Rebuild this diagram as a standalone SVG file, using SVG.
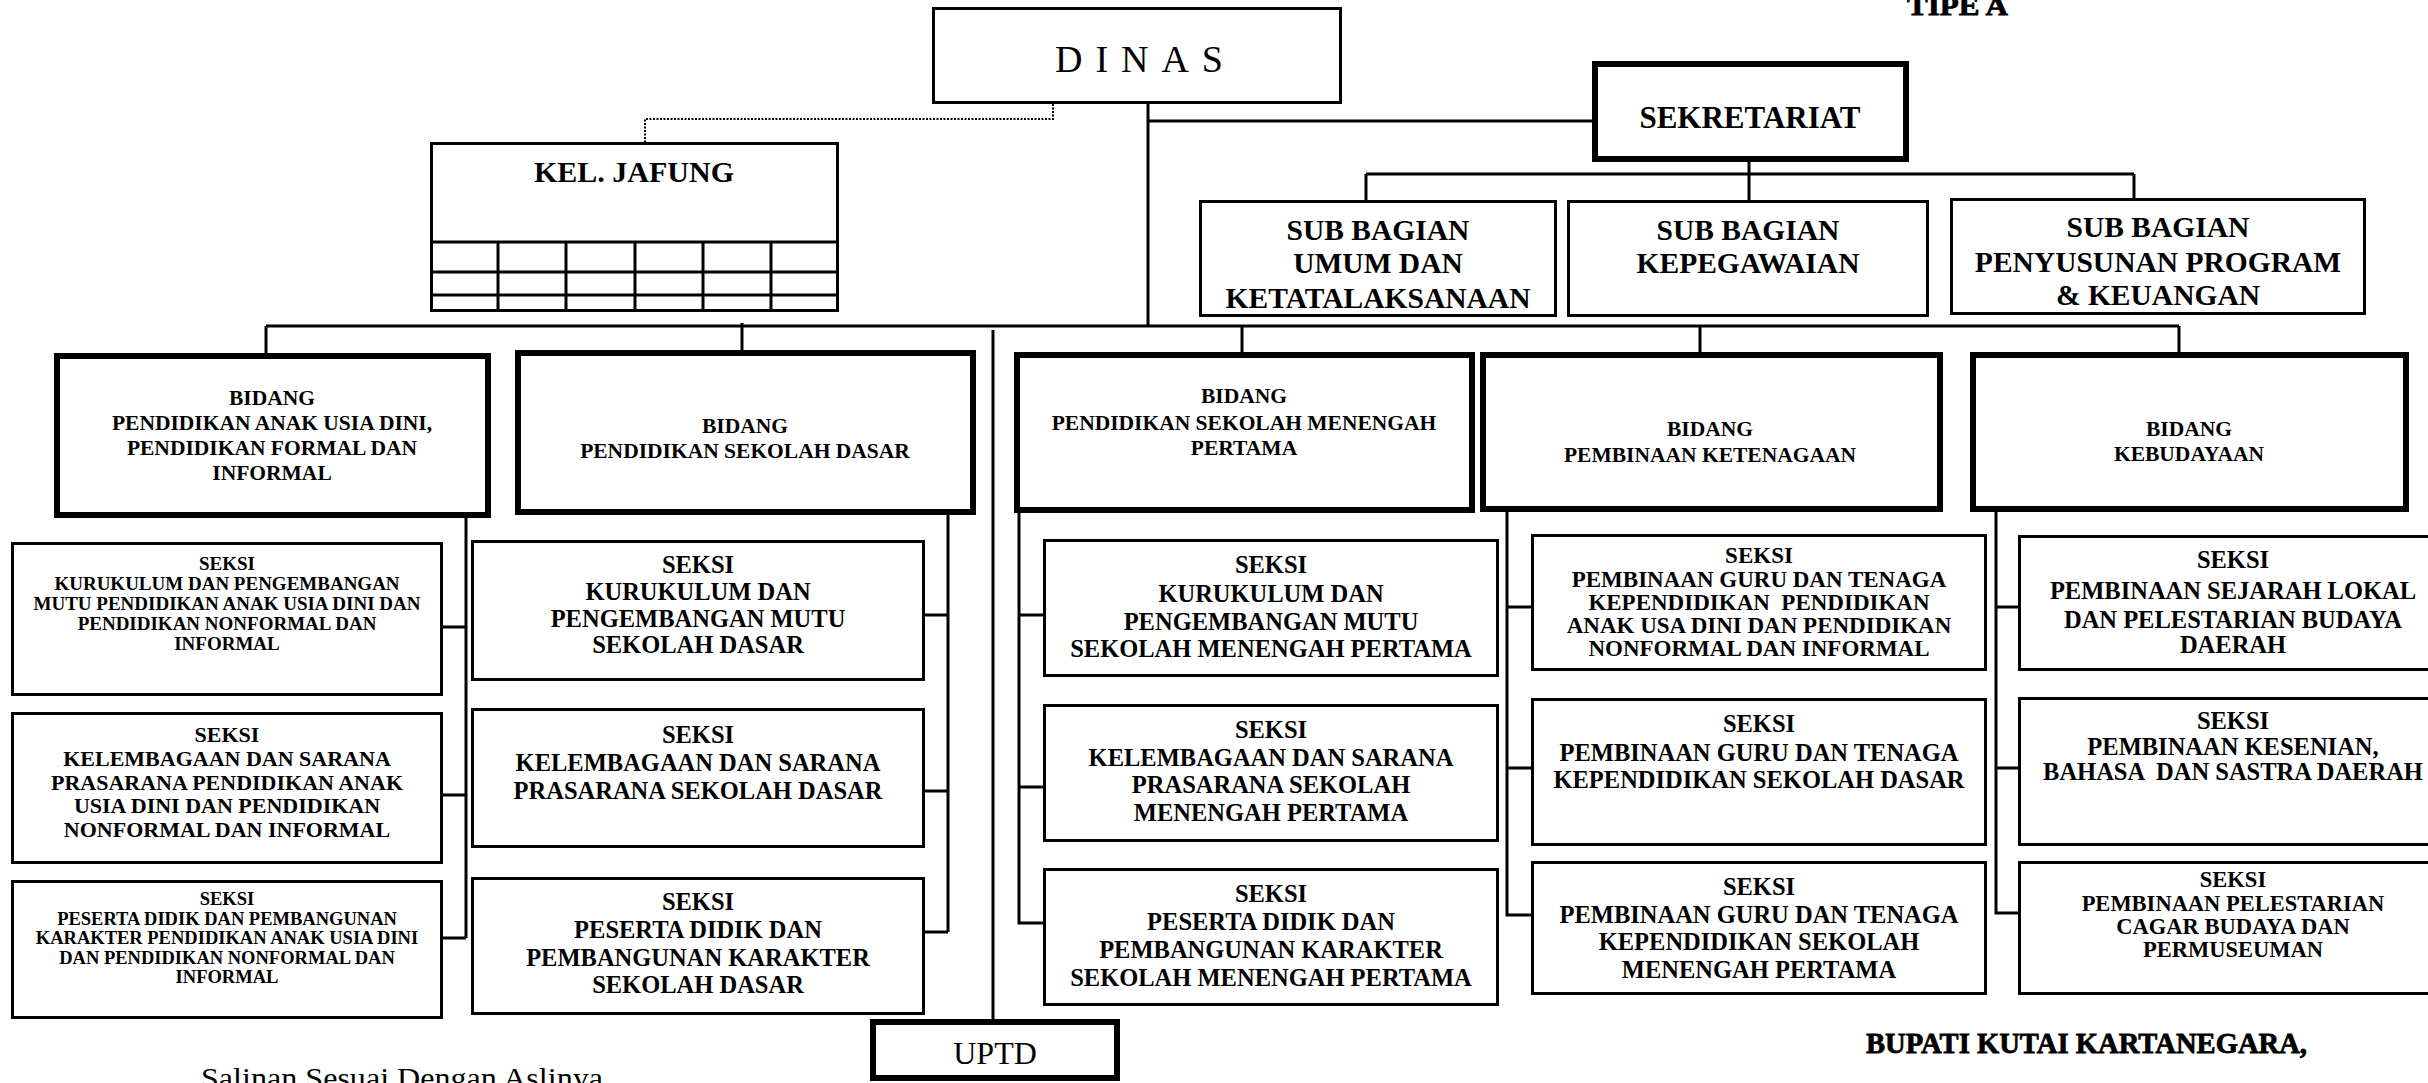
<svg xmlns="http://www.w3.org/2000/svg" width="2428" height="1083" viewBox="0 0 2428 1083">
<style>
.bx{fill:#fff;stroke:#000;stroke-width:3}
.tk{fill:#fff;stroke:#000;stroke-width:6}
.ln{fill:none;stroke:#000;stroke-width:3}
.dt{fill:none;stroke:#000;stroke-width:2;stroke-dasharray:2 1.5}
text{font-family:"Liberation Serif","Times New Roman",serif;font-weight:bold;fill:#000;text-anchor:middle}
.f19{font-size:19px}.f185{font-size:18.5px}.f21{font-size:21.5px}.f22{font-size:22px}.f225{font-size:22.5px}.f23{font-size:23px}.f24{font-size:24.5px}.f29{font-size:29.5px}
</style>
<rect width="2428" height="1083" fill="#fff"/>
<g id="connectors">
<path class="dt" d="M1053 104 V119 H645 V142"/>
<path class="ln" d="M1148 104 V326"/>
<path class="ln" d="M1148 121 H1592"/>
<path class="ln" d="M1749 162 V174 M1366 174 H2134 M1366 174 V200 M1749 174 V200 M2134 174 V198"/>
<path class="ln" d="M266 326 H2179 M266 326 V353 M742 323 V350 M1242 326 V352 M1700 326 V352 M2179 326 V352"/>
<path class="ln" d="M993 330 V1019"/>
<path class="ln" d="M466 518 V938 M443 627 H466 M443 795 H466 M443 938 H466"/>
<path class="ln" d="M948 515 V932 M925 615 H948 M925 791 H948 M925 932 H948"/>
<path class="ln" d="M1019 513 V923 H1043 M1019 615 H1043 M1019 787 H1043"/>
<path class="ln" d="M1507 512 V915 H1531 M1507 607 H1531 M1507 768 H1531"/>
<path class="ln" d="M1996 512 V913 H2018 M1996 607 H2018 M1996 768 H2018"/>
</g>
<g id="dinas">
<rect class="bx" x="933.5" y="8.5" width="407" height="94"/>
<text x="1055" y="72" style="font-size:38px;font-weight:normal;text-anchor:start" textLength="168" lengthAdjust="spacing">DINAS</text>
</g>
<g id="sekretariat">
<rect class="tk" x="1595" y="64" width="311" height="95"/>
<text x="1750" y="128" style="font-size:31px">SEKRETARIAT</text>
</g>
<g id="kel-jafung">
<rect class="bx" x="431.5" y="143.5" width="406" height="167"/>
<path class="ln" d="M430 242 H839 M430 272 H839 M430 295 H839 M498 242 V312 M566 242 V312 M635 242 V312 M703 242 V312 M771 242 V312"/>
<text x="634" y="182" style="font-size:30px">KEL. JAFUNG</text>
</g>
<g id="sub-umum">
<rect class="bx" x="1200.5" y="201.5" width="355" height="114"/>
<text class="f29" x="1378" y="240">SUB BAGIAN</text>
<text class="f29" x="1378" y="273">UMUM DAN</text>
<text class="f29" x="1378" y="308">KETATALAKSANAAN</text>
</g>
<g id="sub-kepegawaian">
<rect class="bx" x="1568.5" y="201.5" width="359" height="114"/>
<text class="f29" x="1748" y="240">SUB BAGIAN</text>
<text class="f29" x="1748" y="273">KEPEGAWAIAN</text>
</g>
<g id="sub-program">
<rect class="bx" x="1951.5" y="199.5" width="413" height="114"/>
<text class="f29" x="2158" y="237">SUB BAGIAN</text>
<text class="f29" x="2158" y="272">PENYUSUNAN PROGRAM</text>
<text class="f29" x="2158" y="305">&amp; KEUANGAN</text>
</g>
<g id="bidang-paud">
<rect class="tk" x="57" y="356" width="431" height="159"/>
<text class="f21" x="272" y="405">BIDANG</text>
<text class="f21" x="272" y="430">PENDIDIKAN ANAK USIA DINI,</text>
<text class="f21" x="272" y="455">PENDIDIKAN FORMAL DAN</text>
<text class="f21" x="272" y="480">INFORMAL</text>
</g>
<g id="bidang-sd">
<rect class="tk" x="518" y="353" width="455" height="159"/>
<text class="f21" x="745" y="433">BIDANG</text>
<text class="f21" x="745" y="458">PENDIDIKAN SEKOLAH DASAR</text>
</g>
<g id="bidang-smp">
<rect class="tk" x="1017" y="355" width="455" height="155"/>
<text class="f21" x="1244" y="403">BIDANG</text>
<text class="f21" x="1244" y="430">PENDIDIKAN SEKOLAH MENENGAH</text>
<text class="f21" x="1244" y="455">PERTAMA</text>
</g>
<g id="bidang-ketenagaan">
<rect class="tk" x="1483" y="355" width="457" height="154"/>
<text class="f21" x="1710" y="436">BIDANG</text>
<text class="f21" x="1710" y="462">PEMBINAAN KETENAGAAN</text>
</g>
<g id="bidang-kebudayaan">
<rect class="tk" x="1973" y="355" width="433" height="154"/>
<text class="f21" x="2189" y="436">BIDANG</text>
<text class="f21" x="2189" y="461">KEBUDAYAAN</text>
</g>
<g id="seksi-1a">
<rect class="bx" x="12.5" y="543.5" width="429" height="151"/>
<text class="f19" x="227" y="570">SEKSI</text>
<text class="f19" x="227" y="590">KURUKULUM DAN PENGEMBANGAN</text>
<text class="f19" x="227" y="610">MUTU PENDIDIKAN ANAK USIA DINI DAN</text>
<text class="f19" x="227" y="630">PENDIDIKAN NONFORMAL DAN</text>
<text class="f19" x="227" y="650">INFORMAL</text>
</g>
<g id="seksi-1b">
<rect class="bx" x="12.5" y="713.5" width="429" height="149"/>
<text class="f22" x="227" y="742">SEKSI</text>
<text class="f22" x="227" y="766">KELEMBAGAAN DAN SARANA</text>
<text class="f22" x="227" y="790">PRASARANA PENDIDIKAN ANAK</text>
<text class="f22" x="227" y="813">USIA DINI DAN PENDIDIKAN</text>
<text class="f22" x="227" y="837">NONFORMAL DAN INFORMAL</text>
</g>
<g id="seksi-1c">
<rect class="bx" x="12.5" y="881.5" width="429" height="136"/>
<text class="f185" x="227" y="905">SEKSI</text>
<text class="f185" x="227" y="924.5">PESERTA DIDIK DAN PEMBANGUNAN</text>
<text class="f185" x="227" y="944">KARAKTER PENDIDIKAN ANAK USIA DINI</text>
<text class="f185" x="227" y="963.5">DAN PENDIDIKAN NONFORMAL DAN</text>
<text class="f185" x="227" y="983">INFORMAL</text>
</g>
<g id="seksi-2a">
<rect class="bx" x="472.5" y="541.5" width="451" height="138"/>
<text class="f24" x="698" y="573">SEKSI</text>
<text class="f24" x="698" y="600">KURUKULUM DAN</text>
<text class="f24" x="698" y="627">PENGEMBANGAN MUTU</text>
<text class="f24" x="698" y="653">SEKOLAH DASAR</text>
</g>
<g id="seksi-2b">
<rect class="bx" x="472.5" y="709.5" width="451" height="137"/>
<text class="f24" x="698" y="743">SEKSI</text>
<text class="f24" x="698" y="771">KELEMBAGAAN DAN SARANA</text>
<text class="f24" x="698" y="799">PRASARANA SEKOLAH DASAR</text>
</g>
<g id="seksi-2c">
<rect class="bx" x="472.5" y="878.5" width="451" height="135"/>
<text class="f24" x="698" y="910">SEKSI</text>
<text class="f24" x="698" y="938">PESERTA DIDIK DAN</text>
<text class="f24" x="698" y="966">PEMBANGUNAN KARAKTER</text>
<text class="f24" x="698" y="993">SEKOLAH DASAR</text>
</g>
<g id="seksi-3a">
<rect class="bx" x="1044.5" y="540.5" width="453" height="135"/>
<text class="f24" x="1271" y="573">SEKSI</text>
<text class="f24" x="1271" y="602">KURUKULUM DAN</text>
<text class="f24" x="1271" y="630">PENGEMBANGAN MUTU</text>
<text class="f24" x="1271" y="657">SEKOLAH MENENGAH PERTAMA</text>
</g>
<g id="seksi-3b">
<rect class="bx" x="1044.5" y="705.5" width="453" height="135"/>
<text class="f24" x="1271" y="738">SEKSI</text>
<text class="f24" x="1271" y="766">KELEMBAGAAN DAN SARANA</text>
<text class="f24" x="1271" y="793">PRASARANA SEKOLAH</text>
<text class="f24" x="1271" y="821">MENENGAH PERTAMA</text>
</g>
<g id="seksi-3c">
<rect class="bx" x="1044.5" y="869.5" width="453" height="135"/>
<text class="f24" x="1271" y="902">SEKSI</text>
<text class="f24" x="1271" y="930">PESERTA DIDIK DAN</text>
<text class="f24" x="1271" y="958">PEMBANGUNAN KARAKTER</text>
<text class="f24" x="1271" y="986">SEKOLAH MENENGAH PERTAMA</text>
</g>
<g id="seksi-4a">
<rect class="bx" x="1532.5" y="535.5" width="453" height="134"/>
<text class="f23" x="1759" y="563">SEKSI</text>
<text class="f23" x="1759" y="587">PEMBINAAN GURU DAN TENAGA</text>
<text class="f23" x="1759" y="610" xml:space="preserve">KEPENDIDIKAN  PENDIDIKAN</text>
<text class="f23" x="1759" y="633">ANAK USA DINI DAN PENDIDIKAN</text>
<text class="f23" x="1759" y="656">NONFORMAL DAN INFORMAL</text>
</g>
<g id="seksi-4b">
<rect class="bx" x="1532.5" y="699.5" width="453" height="145"/>
<text class="f24" x="1759" y="732">SEKSI</text>
<text class="f24" x="1759" y="761">PEMBINAAN GURU DAN TENAGA</text>
<text class="f24" x="1759" y="788">KEPENDIDIKAN SEKOLAH DASAR</text>
</g>
<g id="seksi-4c">
<rect class="bx" x="1532.5" y="862.5" width="453" height="131"/>
<text class="f24" x="1759" y="895">SEKSI</text>
<text class="f24" x="1759" y="923">PEMBINAAN GURU DAN TENAGA</text>
<text class="f24" x="1759" y="950">KEPENDIDIKAN SEKOLAH</text>
<text class="f24" x="1759" y="978">MENENGAH PERTAMA</text>
</g>
<g id="seksi-5a">
<rect class="bx" x="2019.5" y="536.5" width="427" height="133"/>
<text class="f24" x="2233" y="568">SEKSI</text>
<text class="f24" x="2233" y="599">PEMBINAAN SEJARAH LOKAL</text>
<text class="f24" x="2233" y="628">DAN PELESTARIAN BUDAYA</text>
<text class="f24" x="2233" y="653">DAERAH</text>
</g>
<g id="seksi-5b">
<rect class="bx" x="2019.5" y="698.5" width="427" height="146"/>
<text class="f24" x="2233" y="729">SEKSI</text>
<text class="f24" x="2233" y="755">PEMBINAAN KESENIAN,</text>
<text class="f24" x="2233" y="780" xml:space="preserve">BAHASA  DAN SASTRA DAERAH</text>
</g>
<g id="seksi-5c">
<rect class="bx" x="2019.5" y="862.5" width="427" height="131"/>
<text class="f225" x="2233" y="887">SEKSI</text>
<text class="f225" x="2233" y="911">PEMBINAAN PELESTARIAN</text>
<text class="f225" x="2233" y="934">CAGAR BUDAYA DAN</text>
<text class="f225" x="2233" y="957">PERMUSEUMAN</text>
</g>
<g id="uptd">
<rect class="tk" x="873" y="1022" width="244" height="56"/>
<text x="995" y="1064" style="font-size:32px;font-weight:normal">UPTD</text>
</g>
<g id="labels">
<text x="1907" y="15" style="font-size:28px;text-anchor:start;stroke:#000;stroke-width:0.8" textLength="101" lengthAdjust="spacingAndGlyphs">TIPE A</text>
<text x="1866" y="1053" style="font-size:30px;text-anchor:start;stroke:#000;stroke-width:0.8" textLength="441" lengthAdjust="spacingAndGlyphs">BUPATI KUTAI KARTANEGARA,</text>
<text x="201" y="1088" style="font-size:30px;font-weight:normal;text-anchor:start" textLength="402" lengthAdjust="spacingAndGlyphs">Salinan Sesuai Dengan Aslinya</text>
</g>
</svg>
